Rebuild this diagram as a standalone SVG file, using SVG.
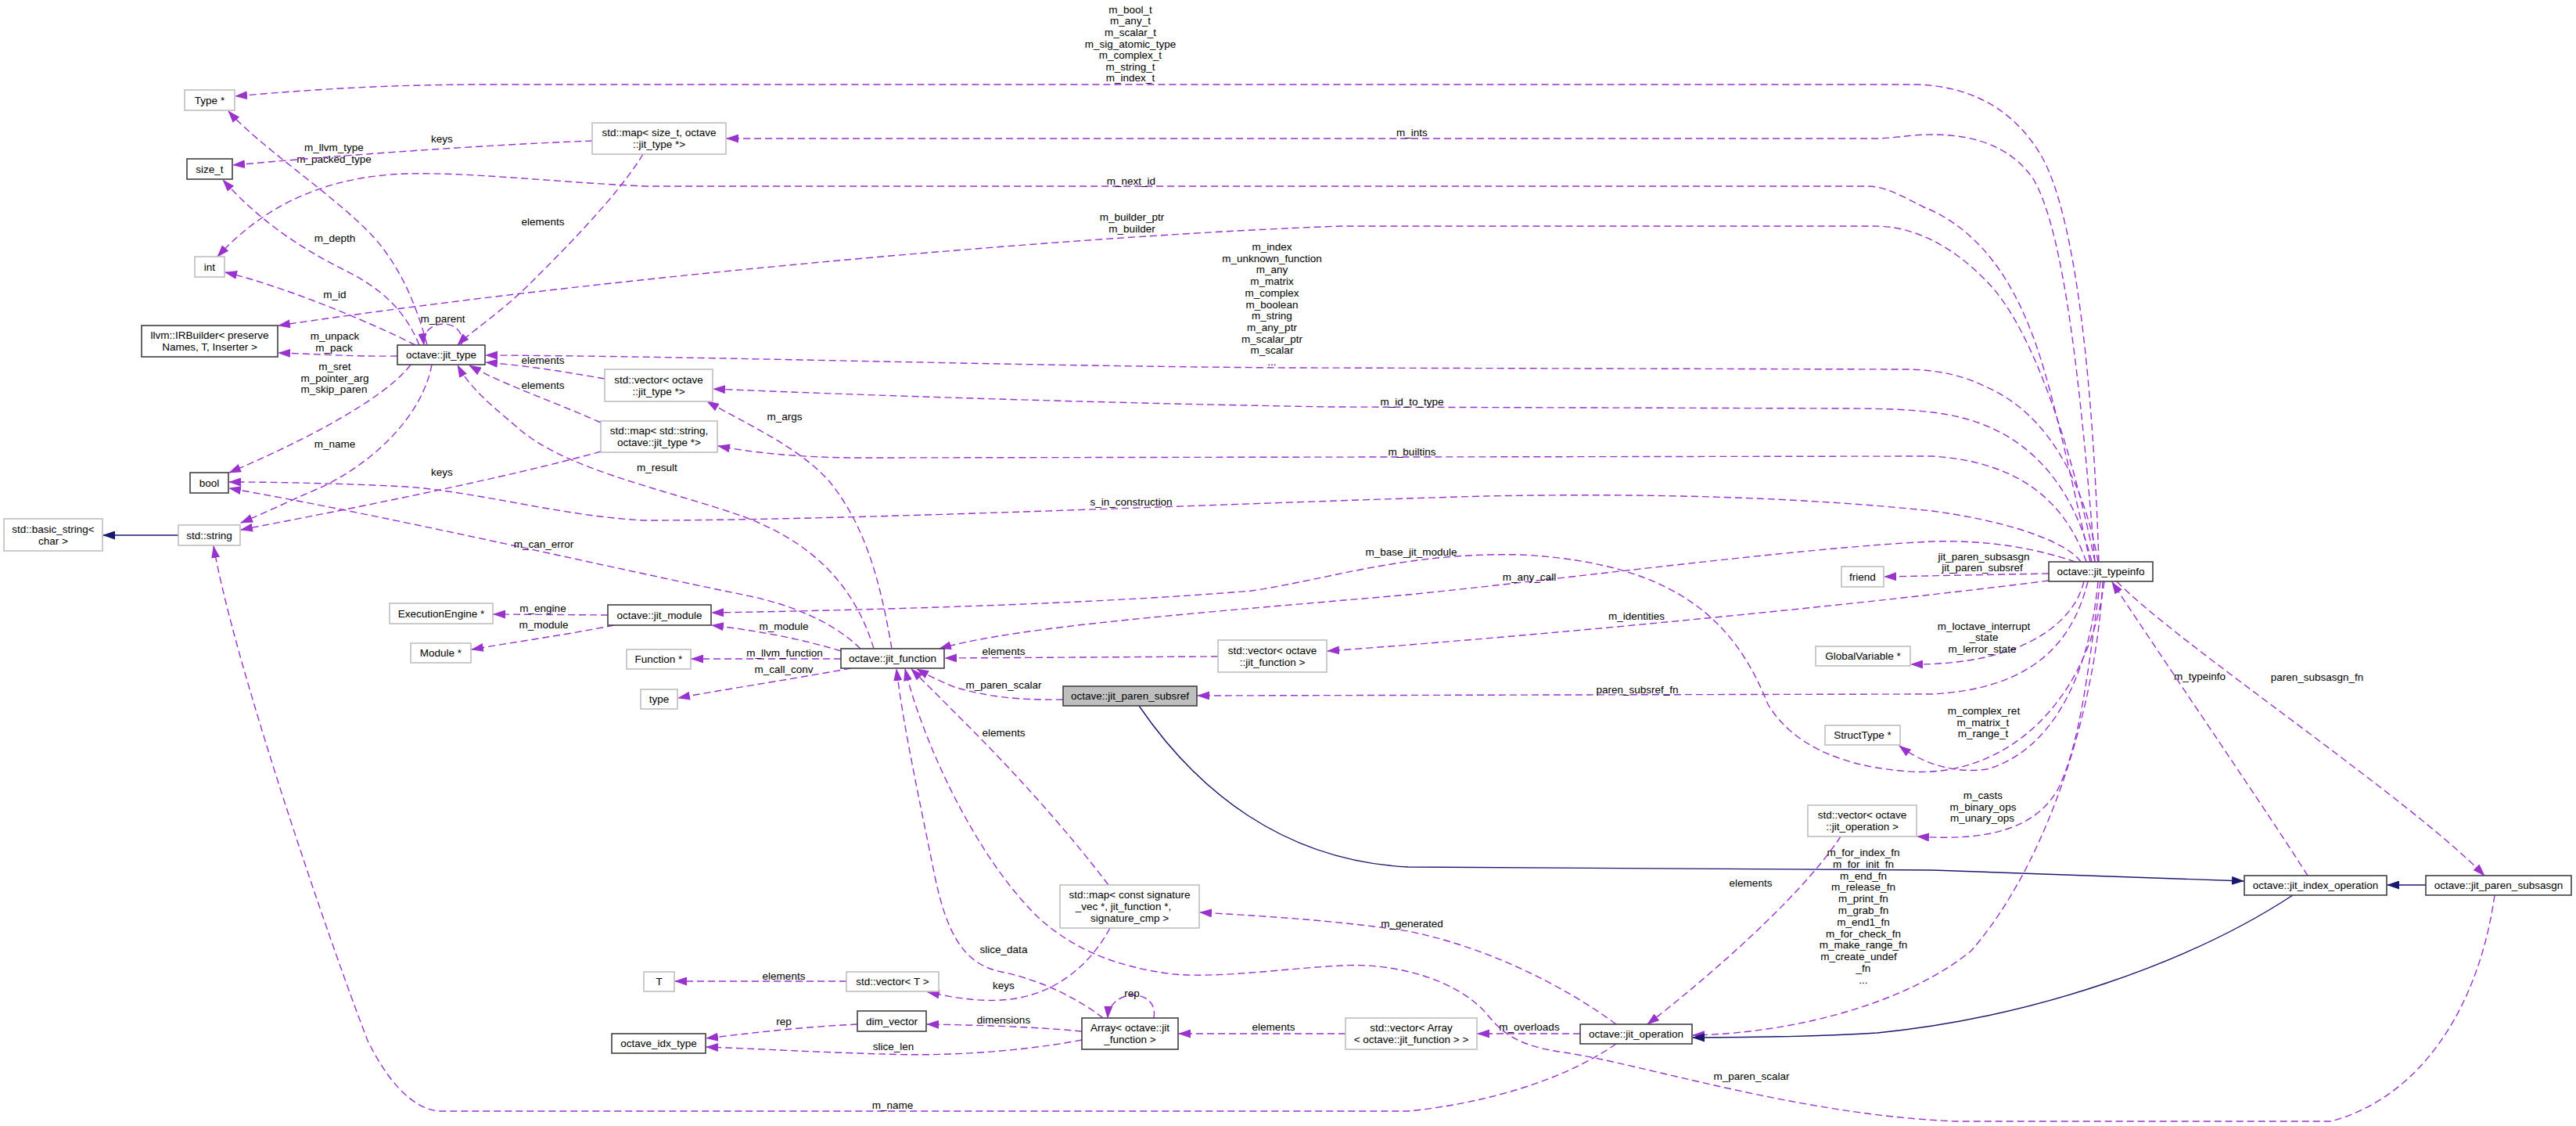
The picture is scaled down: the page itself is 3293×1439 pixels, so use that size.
<svg xmlns="http://www.w3.org/2000/svg" width="3293" height="1439" viewBox="0 0 3293 1439">
<style>
text{font-family:'Liberation Sans',Arial,sans-serif;font-size:13.5px;fill:#000}
.c{text-anchor:middle}
.doc{fill:#fff;stroke:#404040;stroke-width:1.6}
.und{fill:#fff;stroke:#bfbfbf;stroke-width:1.6}
.cur{fill:#bfbfbf;stroke:#404040;stroke-width:1.6}
.e{fill:none;stroke:#9a32cd;stroke-width:1.4;stroke-dasharray:9,5;marker-end:url(#ap)}
.i{fill:none;stroke:#191970;stroke-width:1.4;marker-end:url(#an)}
</style>
<defs>
<marker id="ap" viewBox="0 0 16 11" refX="15" refY="5.5" markerWidth="16" markerHeight="11" markerUnits="userSpaceOnUse" orient="auto"><path d="M0,0 L16,5.5 L0,11 z" fill="#9a32cd"/></marker>
<marker id="an" viewBox="0 0 16 11" refX="15" refY="5.5" markerWidth="16" markerHeight="11" markerUnits="userSpaceOnUse" orient="auto"><path d="M0,0 L16,5.5 L0,11 z" fill="#191970"/></marker>
</defs>
<rect width="3293" height="1439" fill="#fff"/>
<g id="connectors">
<path class="e" d="M2683,718 C2676,500 2655,280 2610,200 C2575,140 2520,110 2450,108 L620,108 C500,108 400,114 301,123"/>
<text class="c" x="1445" y="17">m_bool_t</text><text class="c" x="1445" y="31.4">m_any_t</text><text class="c" x="1445" y="46">m_scalar_t</text><text class="c" x="1445" y="60.6">m_sig_atomic_type</text><text class="c" x="1445" y="75.2">m_complex_t</text><text class="c" x="1445" y="89.8">m_string_t</text><text class="c" x="1445" y="104.4">m_index_t</text>
<path class="e" d="M546,441 C530,380 505,330 470,295 C420,245 330,185 292,142"/>
<text class="c" x="427" y="193">m_llvm_type</text><text class="c" x="427" y="208">m_packed_type</text>
<path class="e" d="M757,180 C600,186 420,200 298,211"/>
<text class="c" x="565" y="182">keys</text>
<path class="e" d="M536,441 C515,390 480,365 440,345 C380,315 330,280 285,230"/>
<text class="c" x="428" y="309">m_depth</text>
<path class="e" d="M2672,718 C2645,600 2620,480 2595,420 C2560,330 2510,285 2460,265 C2430,250 2410,238 2387,238 L824,238 C700,232 600,220 520,222 C420,225 340,260 278,328"/>
<text class="c" x="1446" y="236">m_next_id</text>
<path class="e" d="M531,441 C470,410 360,365 288,348"/>
<text class="c" x="428" y="381">m_id</text>
<path class="e" d="M2678,718 C2650,580 2600,420 2540,360 C2500,318 2450,289 2397,289 L1714,289 C1400,300 800,350 356,416"/>
<text class="c" x="1447" y="282">m_builder_ptr</text><text class="c" x="1447" y="297">m_builder</text>
<path class="e" d="M508,455 C450,456 400,452 356,451"/>
<text class="c" x="428" y="434">m_unpack</text><text class="c" x="427" y="449">m_pack</text>
<path class="e" d="M590,441 C597,405 537,405 542,441"/>
<text class="c" x="566" y="412">m_parent</text>
<path class="e" d="M822,197 C790,250 720,320 680,360 C640,400 600,425 585,441"/>
<text class="c" x="694" y="288">elements</text>
<path class="e" d="M773,484 C720,475 680,468 621,463"/>
<text class="c" x="694" y="465">elements</text>
<path class="e" d="M2682,718 C2665,620 2620,530 2540,495 C2510,480 2480,473 2440,472 L1650,470 C1300,468 900,455 621,454"/>
<text class="c" x="1626" y="320">m_index</text><text class="c" x="1626" y="334.7">m_unknown_function</text><text class="c" x="1626" y="349.4">m_any</text><text class="c" x="1626" y="364.1">m_matrix</text><text class="c" x="1626" y="378.8">m_complex</text><text class="c" x="1626" y="393.5">m_boolean</text><text class="c" x="1626" y="408.2">m_string</text><text class="c" x="1626" y="422.9">m_any_ptr</text><text class="c" x="1626" y="437.6">m_scalar_ptr</text><text class="c" x="1626" y="452.3">m_scalar</text><text class="c" x="1626" y="467">...</text>
<path class="e" d="M768,540 C700,510 640,490 600,467"/>
<text class="c" x="694" y="497">elements</text>
<path class="e" d="M1117,829 C1090,740 1030,690 950,660 C850,625 720,600 660,545 C630,520 600,495 585,467"/>
<text class="c" x="840" y="602">m_result</text>
<path class="e" d="M525,466 C500,500 420,550 293,604"/>
<text class="c" x="428" y="473">m_sret</text><text class="c" x="428" y="488">m_pointer_arg</text><text class="c" x="427" y="502">m_skip_paren</text>
<path class="e" d="M552,466 C540,530 480,590 410,623 C370,640 340,655 308,668"/>
<text class="c" x="428" y="572">m_name</text>
<path class="e" d="M768,577 C650,610 450,650 308,677"/>
<text class="c" x="565" y="608">keys</text>
<path class="e" d="M2660,718 C2640,690 2560,665 2470,653 C2300,635 2100,630 1900,634 C1600,642 1100,665 824,665 C720,660 620,630 520,622 C440,618 360,616 293,616"/>
<text class="c" x="1446" y="646">s_in_construction</text>
<path class="e" d="M1100,829 C1060,790 1000,770 950,760 C800,730 500,660 293,624"/>
<text class="c" x="695" y="700">m_can_error</text>
<path class="i" d="M228,684 L132,684"/>
<path class="e" d="M2066,1334 C2000,1380 1900,1410 1800,1420 L560,1420 C520,1415 490,1370 470,1330 C420,1200 300,850 273,698"/>
<text class="c" x="1141" y="1417">m_name</text>
<path class="e" d="M777,786 L631,785"/>
<text class="c" x="694" y="782">m_engine</text>
<path class="e" d="M785,799 C720,812 660,820 603,830"/>
<text class="c" x="695" y="803">m_module</text>
<path class="e" d="M1075,832 C1020,815 960,805 910,799"/>
<text class="c" x="1002" y="805">m_module</text>
<path class="e" d="M2690,743 C2670,900 2560,1000 2430,985 C2350,978 2290,950 2260,900 C2220,800 2150,720 1946,709 C1800,705 1700,740 1600,755 C1400,772 1100,780 910,783"/>
<text class="c" x="1804" y="710">m_base_jit_module</text>
<path class="e" d="M1075,842 L884,842"/>
<text class="c" x="1003" y="839">m_llvm_function</text>
<path class="e" d="M1088,854 C1000,870 920,882 867,892"/>
<text class="c" x="1002" y="860">m_call_conv</text>
<path class="e" d="M1140,829 C1125,740 1105,670 1060,615 C1020,570 950,540 904,513"/>
<text class="c" x="1003" y="537">m_args</text>
<path class="e" d="M2674,718 C2650,620 2590,540 2470,527 C2440,523 2400,522 2360,522 L1700,520 C1400,515 1100,505 912,497"/>
<text class="c" x="1805" y="518">m_id_to_type</text>
<path class="e" d="M2667,718 C2640,640 2580,590 2470,583 L1100,585 C1020,585 960,578 918,570"/>
<text class="c" x="1805" y="582">m_builtins</text>
<path class="e" d="M2653,718 C2600,700 2540,690 2470,692 C2300,700 2000,740 1800,760 C1550,782 1300,800 1201,829"/>
<text class="c" x="1955" y="742">m_any_call</text>
<path class="e" d="M1557,839 L1208,841"/>
<text class="c" x="1283" y="837">elements</text>
<path class="e" d="M2619,742 C2400,770 2000,810 1697,832"/>
<text class="c" x="2092" y="792">m_identities</text>
<path class="e" d="M1359,894 C1300,895 1260,890 1220,878 C1200,870 1185,862 1172,855"/>
<text class="c" x="1283" y="880">m_paren_scalar</text>
<path class="e" d="M2669,743 C2650,820 2600,880 2470,887 L1531,889"/>
<text class="c" x="2093" y="886">paren_subsref_fn</text>
<path class="e" d="M1417,1131 C1340,1030 1260,950 1220,910 C1200,890 1180,870 1165,855"/>
<text class="c" x="1283" y="941">elements</text>
<path class="e" d="M1410,1301 C1370,1270 1320,1250 1280,1242 C1230,1232 1210,1190 1195,1120 C1175,1020 1155,930 1146,855"/>
<text class="c" x="1283" y="1218">slice_data</text>
<path class="e" d="M3189,1144 C3170,1280 3100,1400 2980,1433 L2500,1433 C2300,1425 2100,1360 2000,1345 C1940,1337 1920,1320 1900,1295 C1860,1250 1780,1230 1714,1234 C1640,1238 1560,1250 1500,1245 C1420,1235 1370,1210 1330,1175 C1250,1100 1180,950 1157,855"/>
<text class="c" x="2239" y="1380">m_paren_scalar</text>
<path class="e" d="M1419,1186 C1390,1240 1340,1275 1280,1278 C1250,1280 1220,1275 1186,1268"/>
<text class="c" x="1283" y="1264">keys</text>
<path class="e" d="M1082,1254 L863,1254"/>
<text class="c" x="1002" y="1252">elements</text>
<path class="e" d="M1475,1301 C1482,1262 1418,1262 1416,1301"/>
<text class="c" x="1447" y="1274">rep</text>
<path class="e" d="M1383,1318 C1320,1312 1250,1310 1185,1309"/>
<text class="c" x="1283" y="1308">dimensions</text>
<path class="e" d="M1096,1309 C1030,1312 960,1320 903,1327"/>
<text class="c" x="1002" y="1310">rep</text>
<path class="e" d="M1383,1329 C1300,1345 1200,1350 1130,1347 C1050,1345 960,1340 903,1338"/>
<text class="c" x="1142" y="1342">slice_len</text>
<path class="e" d="M1720,1321 L1507,1321"/>
<text class="c" x="1628" y="1317">elements</text>
<path class="e" d="M2020,1321 L1889,1321"/>
<text class="c" x="1955" y="1317">m_overloads</text>
<path class="e" d="M2066,1309 C2000,1260 1900,1210 1800,1190 C1700,1175 1600,1170 1534,1166"/>
<text class="c" x="1805" y="1185">m_generated</text>
<path class="e" d="M2353,1069 C2300,1150 2170,1260 2106,1309"/>
<text class="c" x="2238" y="1133">elements</text>
<path class="e" d="M2685,743 C2670,850 2660,950 2630,1010 C2600,1060 2540,1075 2451,1069"/>
<text class="c" x="2535" y="1021">m_casts</text><text class="c" x="2535" y="1036">m_binary_ops</text><text class="c" x="2534" y="1050">m_unary_ops</text>
<path class="e" d="M2688,743 C2680,900 2620,1100 2520,1215 C2440,1280 2300,1320 2164,1323"/>
<text class="c" x="2382" y="1094">m_for_index_fn</text><text class="c" x="2382" y="1108.8">m_for_init_fn</text><text class="c" x="2382" y="1123.6">m_end_fn</text><text class="c" x="2382" y="1138.4">m_release_fn</text><text class="c" x="2382" y="1153.2">m_print_fn</text><text class="c" x="2382" y="1168">m_grab_fn</text><text class="c" x="2382" y="1182.8">m_end1_fn</text><text class="c" x="2382" y="1197.6">m_for_check_fn</text><text class="c" x="2382" y="1212.4">m_make_range_fn</text><text class="c" x="2376" y="1227.2">m_create_undef</text><text class="c" x="2382" y="1242">_fn</text><text class="c" x="2382" y="1256.8">...</text>
<path class="i" d="M1456,902 C1530,1010 1640,1100 1800,1108 L2470,1112 C2650,1118 2780,1122 2868,1126"/>
<path class="i" d="M2931,1144 C2800,1230 2600,1300 2400,1320 C2300,1326 2220,1326 2164,1326"/>
<path class="i" d="M3101,1131 L3052,1131"/>
<path class="e" d="M2950,1119 C2900,1040 2790,880 2700,744"/>
<text class="c" x="2812" y="869">m_typeinfo</text>
<path class="e" d="M2706,743 C2780,820 3080,1020 3176,1119"/>
<text class="c" x="2962" y="870">paren_subsasgn_fn</text>
<path class="e" d="M2619,733 L2409,737"/>
<text class="c" x="2536" y="716">jit_paren_subsasgn</text><text class="c" x="2534" y="730">jit_paren_subsref</text>
<path class="e" d="M2664,743 C2650,800 2580,850 2443,849"/>
<text class="c" x="2536" y="805">m_loctave_interrupt</text><text class="c" x="2536" y="819">_state</text><text class="c" x="2534" y="834">m_lerror_state</text>
<path class="e" d="M2682,743 C2670,870 2620,960 2540,983 C2490,990 2450,970 2428,953"/>
<text class="c" x="2536" y="913">m_complex_ret</text><text class="c" x="2535" y="928">m_matrix_t</text><text class="c" x="2535" y="942">m_range_t</text>
<path class="e" d="M2678,718 C2660,500 2640,300 2600,230 C2570,185 2520,172 2470,172 C2440,172 2420,177 2397,177 L929,177"/>
<text class="c" x="1805" y="174">m_ints</text>
</g>
<g id="node-Type"><rect class="und" x="236" y="115" width="64" height="26"/><text class="c" x="268" y="133">Type *</text></g>
<g id="node-size_t"><rect class="doc" x="239" y="203" width="58" height="26"/><text class="c" x="268" y="221">size_t</text></g>
<g id="node-map_size_t"><rect class="und" x="757" y="157" width="171" height="40"/><text class="c" x="842.5" y="174.4">std::map&lt; size_t, octave</text><text class="c" x="842.5" y="189.2">::jit_type *&gt;</text></g>
<g id="node-int"><rect class="und" x="249" y="328" width="38" height="26"/><text class="c" x="268" y="346">int</text></g>
<g id="node-IRBuilder"><rect class="doc" x="181" y="416" width="174" height="40"/><text class="c" x="268" y="433.4">llvm::IRBuilder&lt; preserve</text><text class="c" x="268" y="448.2">Names, T, Inserter &gt;</text></g>
<g id="node-jit_type"><rect class="doc" x="508" y="441" width="112" height="25"/><text class="c" x="564" y="458.3">octave::jit_type</text></g>
<g id="node-vec_jit_type"><rect class="und" x="773" y="472" width="138" height="41"/><text class="c" x="842" y="489.9">std::vector&lt; octave</text><text class="c" x="842" y="504.7">::jit_type *&gt;</text></g>
<g id="node-map_string"><rect class="und" x="768" y="538" width="149" height="40"/><text class="c" x="842.5" y="555.4">std::map&lt; std::string,</text><text class="c" x="842.5" y="570.2">octave::jit_type *&gt;</text></g>
<g id="node-bool"><rect class="doc" x="243" y="604" width="49" height="26"/><text class="c" x="267.5" y="622">bool</text></g>
<g id="node-std_string"><rect class="und" x="228" y="671" width="79" height="26"/><text class="c" x="267.5" y="689">std::string</text></g>
<g id="node-basic_string"><rect class="und" x="5" y="663" width="126" height="41"/><text class="c" x="68" y="680.9">std::basic_string&lt;</text><text class="c" x="68" y="695.7">char &gt;</text></g>
<g id="node-ExecutionEngine"><rect class="und" x="498" y="771" width="132" height="26"/><text class="c" x="564" y="789">ExecutionEngine *</text></g>
<g id="node-Module"><rect class="und" x="525" y="822" width="77" height="25"/><text class="c" x="563.5" y="839.3">Module *</text></g>
<g id="node-jit_module"><rect class="doc" x="777" y="773" width="132" height="26"/><text class="c" x="843" y="791">octave::jit_module</text></g>
<g id="node-Function"><rect class="und" x="801" y="830" width="82" height="25"/><text class="c" x="842" y="847.3">Function *</text></g>
<g id="node-type"><rect class="und" x="819" y="881" width="47" height="25"/><text class="c" x="842.5" y="898.3">type</text></g>
<g id="node-jit_function"><rect class="doc" x="1075" y="829" width="132" height="25"/><text class="c" x="1141" y="846.3">octave::jit_function</text></g>
<g id="node-vec_jit_function"><rect class="und" x="1557" y="818" width="139" height="41"/><text class="c" x="1626.5" y="835.9">std::vector&lt; octave</text><text class="c" x="1626.5" y="850.7">::jit_function &gt;</text></g>
<g id="node-jit_paren_subsref"><rect class="cur" x="1359" y="877" width="171" height="25"/><text class="c" x="1444.5" y="894.3">octave::jit_paren_subsref</text></g>
<g id="node-friend"><rect class="und" x="2354" y="724" width="54" height="26"/><text class="c" x="2381" y="742">friend</text></g>
<g id="node-jit_typeinfo"><rect class="doc" x="2619" y="718" width="133" height="25"/><text class="c" x="2685.5" y="735.3">octave::jit_typeinfo</text></g>
<g id="node-GlobalVariable"><rect class="und" x="2321" y="826" width="121" height="25"/><text class="c" x="2381.5" y="843.3">GlobalVariable *</text></g>
<g id="node-StructType"><rect class="und" x="2333" y="927" width="96" height="25"/><text class="c" x="2381" y="944.3">StructType *</text></g>
<g id="node-vec_jit_operation"><rect class="und" x="2311" y="1029" width="139" height="40"/><text class="c" x="2380.5" y="1046.4">std::vector&lt; octave</text><text class="c" x="2380.5" y="1061.2">::jit_operation &gt;</text></g>
<g id="node-jit_index_operation"><rect class="doc" x="2869" y="1119" width="182" height="25"/><text class="c" x="2960" y="1136.3">octave::jit_index_operation</text></g>
<g id="node-jit_paren_subsasgn"><rect class="doc" x="3101" y="1119" width="186" height="25"/><text class="c" x="3194" y="1136.3">octave::jit_paren_subsasgn</text></g>
<g id="node-map_signature"><rect class="und" x="1355" y="1131" width="178" height="55"/><text class="c" x="1444" y="1148.3">std::map&lt; const signature</text><text class="c" x="1436" y="1163.3">_vec *, jit_function *,</text><text class="c" x="1444" y="1178.3">signature_cmp &gt;</text></g>
<g id="node-T"><rect class="und" x="823" y="1242" width="39" height="25"/><text class="c" x="842.5" y="1259.3">T</text></g>
<g id="node-vec_T"><rect class="und" x="1082" y="1242" width="118" height="25"/><text class="c" x="1141" y="1259.3">std::vector&lt; T &gt;</text></g>
<g id="node-dim_vector"><rect class="doc" x="1096" y="1292" width="88" height="26"/><text class="c" x="1140" y="1310">dim_vector</text></g>
<g id="node-octave_idx_type"><rect class="doc" x="782" y="1321" width="120" height="25"/><text class="c" x="842" y="1338.3">octave_idx_type</text></g>
<g id="node-Array"><rect class="doc" x="1383" y="1301" width="123" height="40"/><text class="c" x="1444.5" y="1318.4">Array&lt; octave::jit</text><text class="c" x="1444.5" y="1333.2">_function &gt;</text></g>
<g id="node-vec_Array"><rect class="und" x="1720" y="1301" width="168" height="40"/><text class="c" x="1804" y="1318.4">std::vector&lt; Array</text><text class="c" x="1804" y="1333.2">&lt; octave::jit_function &gt; &gt;</text></g>
<g id="node-jit_operation"><rect class="doc" x="2020" y="1309" width="143" height="25"/><text class="c" x="2091.5" y="1326.3">octave::jit_operation</text></g>
</svg>
